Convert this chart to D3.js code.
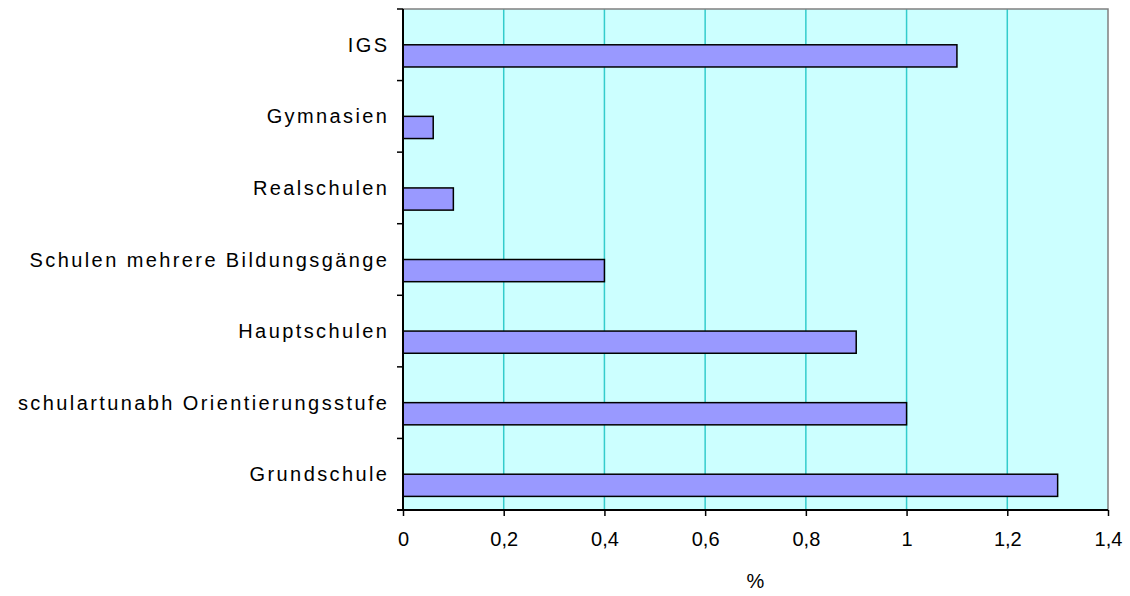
<!DOCTYPE html>
<html>
<head>
<meta charset="utf-8">
<script src="https://cdn.jsdelivr.net/npm/d3@7"></script>
<style>
  body { margin: 0; background: #fff; }
  text { font-family: "Liberation Sans", Arial, sans-serif; fill: #000; }
</style>
</head>
<body>
<div id="chart"></div>
<script>
// categories from top to bottom
var categories = ["IGS", "Gymnasien", "Realschulen", "Schulen mehrere Bildungsgänge",
  "Hauptschulen", "schulartunabh Orientierungsstufe", "Grundschule"];
var values = [1.1, 0.06, 0.1, 0.4, 0.9, 1.0, 1.3];
var xTicks = [0, 0.2, 0.4, 0.6, 0.8, 1, 1.2, 1.4];
var xTitle = "%";

var width = 1130, height = 596;
var pLeft = 403, pRight = 1108, pTop = 9, pBottom = 510;

var svg = d3.select("#chart").append("svg")
    .attr("width", width)
    .attr("height", height);

var x = d3.scaleLinear().domain([0, 1.4]).range([pLeft, pRight]);
var y = d3.scaleBand().domain(categories).range([pTop, pBottom]);

// plot background
svg.append("rect")
    .attr("x", pLeft).attr("y", pTop)
    .attr("width", pRight - pLeft).attr("height", pBottom - pTop)
    .attr("fill", "#ccffff");

// grid lines
svg.append("g").selectAll("line")
    .data(xTicks.slice(1, -1))
    .enter().append("line")
    .attr("x1", function(d) { return x(d); })
    .attr("x2", function(d) { return x(d); })
    .attr("y1", pTop).attr("y2", pBottom)
    .attr("stroke", "#33cccc")
    .attr("stroke-width", 1.5);

// border top / right
svg.append("path")
    .attr("d", "M" + pLeft + "," + pTop + "H" + pRight + "V" + pBottom)
    .attr("fill", "none")
    .attr("stroke", "#808080")
    .attr("stroke-width", 1.5);

// bars
svg.append("g").selectAll("rect")
    .data(values)
    .enter().append("rect")
    .attr("x", x(0))
    .attr("y", function(d, i) { return y(categories[i]) + y.bandwidth() / 2; })
    .attr("width", function(d) { return x(d) - x(0); })
    .attr("height", y.bandwidth() * 0.31)
    .attr("fill", "#9999ff")
    .attr("stroke", "#000")
    .attr("stroke-width", 1.5);

// x axis
var xAxis = svg.append("g")
    .attr("transform", "translate(0," + pBottom + ")")
    .call(d3.axisBottom(x).tickValues(xTicks).tickSize(6).tickPadding(16)
        .tickFormat(function(d) { return String(d).replace(".", ","); }));
xAxis.attr("font-size", null).attr("font-family", null);
xAxis.select(".domain").attr("stroke", "#000").attr("stroke-width", 2)
    .attr("d", "M" + (pLeft - 6) + ",0H" + pRight);
xAxis.selectAll(".tick line").attr("stroke", "#000").attr("stroke-width", 1.5);
xAxis.selectAll("text").attr("font-size", 20).attr("fill", "#000");

// y axis: ticks at band edges
var edges = categories.map(function(c) { return y(c); }).concat([pBottom]);
svg.append("g").selectAll("line")
    .data(edges)
    .enter().append("line")
    .attr("x1", pLeft - 6).attr("x2", pLeft)
    .attr("y1", function(d) { return d; })
    .attr("y2", function(d) { return d; })
    .attr("stroke", "#000").attr("stroke-width", 1.5);
svg.append("line")
    .attr("x1", pLeft).attr("x2", pLeft)
    .attr("y1", pTop).attr("y2", pBottom)
    .attr("stroke", "#000").attr("stroke-width", 2);

// category labels
svg.append("g").selectAll("text")
    .data(categories)
    .enter().append("text")
    .attr("x", 389.4)
    .attr("y", function(d) { return y(d) + y.bandwidth() / 2; })
    .attr("dy", "0.35em")
    .attr("text-anchor", "end")
    .attr("font-size", 20)
    .style("letter-spacing", "2.4px")
    .text(function(d) { return d; });

svg.append("text")
    .attr("x", (pLeft + pRight) / 2)
    .attr("y", 588)
    .attr("text-anchor", "middle")
    .attr("font-size", 20)
    .text(xTitle);
</script>
</body>
</html>
